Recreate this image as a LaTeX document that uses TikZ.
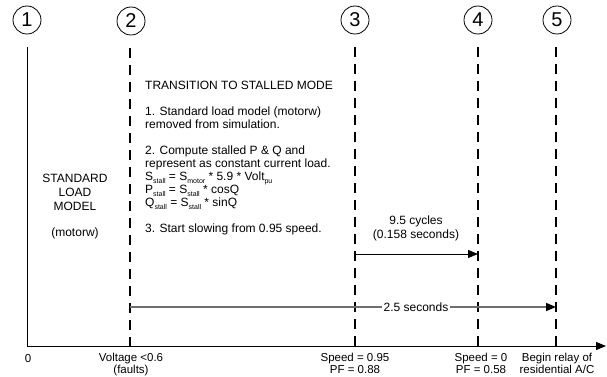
\documentclass[tikz,border=0pt]{standalone}
\usepackage{fontspec}
\setmainfont{Liberation Sans}
\usetikzlibrary{arrows.meta}
\newcommand{\lsb}[1]{\raisebox{-0.45ex}{\fontsize{7}{7}\selectfont #1}}
\definecolor{spangray}{HTML}{6E6E6E}
\begin{document}
\begin{tikzpicture}[x=1pt,y=-1pt,
  num/.style={circle,draw,line width=0.8pt,minimum size=28pt,inner sep=0pt,font=\fontsize{20}{20}\selectfont},
  evline/.style={line width=1.8pt,dash pattern=on 10pt off 7pt},
  solidline/.style={line width=0.9pt},
  lbl/.style={font=\fontsize{11.5}{12}\selectfont,align=center,inner sep=0pt},
  body/.style={font=\fontsize{12}{13}\selectfont,align=left,inner sep=0pt},
  tip/.style={-{Triangle[length=10pt,width=8pt]}}]
\useasboundingbox (0,0) rectangle (607,377);

% numbered circles
\node[num] (c1) at (27,20) {1};
\node[num] (c2) at (131,21) {2};
\node[num] (c3) at (355,20) {3};
\node[num] (c4) at (478,20) {4};
\node[num] (c5) at (557,20) {5};

% line end points
\coordinate (t1) at (27,47);
\coordinate (t2) at (130,48);
\coordinate (t3) at (355,47);
\coordinate (t4) at (478,47);
\coordinate (t5) at (556,47);
\coordinate (b1) at (27,346);
\coordinate (b2) at (130,346);
\coordinate (b3) at (355,346);
\coordinate (b4) at (478,346);
\coordinate (b5) at (556,346);
\coordinate (axend) at (606,346);

% event lines
\draw[solidline] (t1) -- (b1);
\draw[evline] (t2) -- (b2);
\draw[evline] (t3) -- (b3);
\draw[evline] (t4) -- (b4);
\draw[evline] (t5) -- (b5);

% time axis
\draw[solidline,tip] (b1) -- (axend);

% spans
\coordinate (s3) at (355,254);
\coordinate (s4) at (478,254);
\draw[solidline,tip] (s3) -- (s4);
\node[lbl,font=\fontsize{12}{14}\selectfont] (cyc) at (416,228) {9.5 cycles\\(0.158 seconds)};

\coordinate (g2) at (130,307);
\coordinate (g5) at (556,307);
\draw[line width=1.5pt,color=spangray,-{Triangle[length=10pt,width=8pt,fill=black,color=black]}] (g2) -- (g5);
\node[fill=white,inner xsep=1.5pt,inner ysep=1pt,font=\fontsize{12}{13}\selectfont] (secs) at (416,307) {2.5 seconds};

% left text
\node[lbl,font=\fontsize{12}{14}\selectfont,anchor=north] (std) at (75,174)
  {STANDARD\\LOAD\\MODEL\\[12pt](motorw)};

% main text block
\node[body,anchor=north west] (trans) at (145,81)
  {TRANSITION TO STALLED MODE\\[13pt]
   1. Standard load model (motorw)\\
   removed from simulation.\\[13pt]
   2. Compute stalled P \& Q and\\
   represent as constant current load.\\
   S\lsb{stall} = S\lsb{motor} * 5.9 * Volt\lsb{pu}\\
   P\lsb{stall} = S\lsb{stall} * cosQ\\
   Q\lsb{stall} = S\lsb{stall} * sinQ\\[13pt]
   3. Start slowing from 0.95 speed.};

% bottom labels
\node[lbl] (l0) at (28,359) {0};
\node[lbl,anchor=north] (l2) at (131,353) {Voltage <0.6\\(faults)};
\node[lbl,anchor=north] (l3) at (355,353) {Speed = 0.95\\PF = 0.88};
\node[lbl,anchor=north] (l4) at (481,353) {Speed = 0\\PF = 0.58};
\node[lbl,anchor=north] (l5) at (557,353) {Begin relay of\\residential A/C};
\end{tikzpicture}
\end{document}
